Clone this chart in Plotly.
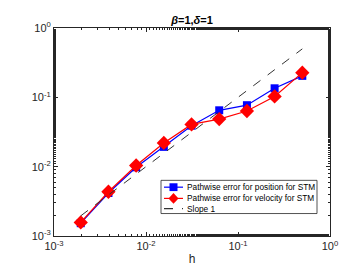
import plotly.graph_objects as go

h = [2**-9, 2**-8, 2**-7, 2**-6, 2**-5, 2**-4, 2**-3, 2**-2, 2**-1]
err_position = [0.00153, 0.00417, 0.0098, 0.0193, 0.039, 0.065, 0.077, 0.135, 0.204]
err_velocity = [0.00157, 0.00435, 0.0104, 0.022, 0.0407, 0.0485, 0.0635, 0.103, 0.227]
slope1 = list(h)

tickvals = [1e-3, 1e-2, 1e-1, 1e0]
ticktext = ["10<sup>-3</sup>", "10<sup>-2</sup>", "10<sup>-1</sup>", "10<sup>0</sup>"]
legend_names = ["Pathwise error for position for STM",
                "Pathwise error for velocity for STM",
                "Slope 1"]

font = "Liberation Sans, Arial, sans-serif"
W, H = 357, 268
L, R, T, B = 46, 322, 20, 233  # plot area in pixels

fig = go.Figure()
fig.add_trace(go.Scatter(
    x=h, y=err_position, mode="lines+markers", name=legend_names[0],
    line=dict(color="#0000ff", width=1.2),
    marker=dict(symbol="square", size=8, color="#0000ff"),
))
fig.add_trace(go.Scatter(
    x=h, y=err_velocity, mode="lines+markers", name=legend_names[1],
    line=dict(color="#ff0000", width=1.2),
    marker=dict(symbol="diamond", size=11, color="#ff0000"),
))
fig.add_trace(go.Scatter(
    x=h, y=slope1, mode="lines", name=legend_names[2],
    line=dict(color="#333333", width=1, dash="dash"),
))

axis_common = dict(
    type="log", showgrid=False, zeroline=False,
    showline=True, linecolor="#262626", linewidth=1, mirror="allticks",
    ticks="inside", ticklen=4, tickcolor="#262626",
    tickfont=dict(family=font, size=11, color="#262626"),
    tickvals=tickvals, ticktext=ticktext,
    minor=dict(ticks="inside", ticklen=2, tickcolor="#262626", showgrid=False),
)

def px(x):
    return (x - L) / (R - L)

def py(y):
    return (B - y) / (B - T)

# custom compact legend (MATLAB style)
shapes = [dict(type="rect", xref="paper", yref="paper",
               x0=px(153), x1=px(309), y0=py(210), y1=py(176),
               line=dict(color="#262626", width=0.8), fillcolor="white", layer="above")]
annotations = []
rows = [183, 194.5, 205]
styles = [("#0000ff", "solid", "square"), ("#ff0000", "solid", "diamond"), ("#333333", "dash", None)]
for name, yrow, (col, dash, sym) in zip(legend_names, rows, styles):
    shapes.append(dict(type="line", xref="paper", yref="paper",
                       x0=px(156), x1=px(175), y0=py(yrow), y1=py(yrow),
                       line=dict(color=col, width=1.2, dash=dash), layer="above"))
    if sym == "square":
        shapes.append(dict(type="rect", xref="paper", yref="paper",
                           x0=px(161.5), x1=px(169.5), y0=py(yrow + 4), y1=py(yrow - 4),
                           fillcolor=col, line=dict(width=0), layer="above"))
    elif sym == "diamond":
        cx, cy = 165.5, yrow
        pts = [(cx, cy - 5.5), (cx + 5, cy), (cx, cy + 5.5), (cx - 5, cy)]
        path = "M " + " L ".join(f"{px(a)} {py(b)}" for a, b in pts) + " Z"
        shapes.append(dict(type="path", xref="paper", yref="paper", path=path,
                           fillcolor=col, line=dict(width=0), layer="above"))
    annotations.append(dict(xref="paper", yref="paper", x=px(177), y=py(yrow),
                            xanchor="left", yanchor="middle", showarrow=False,
                            text=name, font=dict(family=font, size=8.3, color="black")))

fig.update_layout(
    width=W, height=H,
    margin=dict(l=L, r=W - R, t=T, b=H - B),
    paper_bgcolor="white", plot_bgcolor="white",
    title=dict(text="<b><i>β</i>=1,<i>δ</i>=1</b>", x=(L + R) / 2 / W, xanchor="center",
               y=1 - 12 / H, yanchor="middle",
               font=dict(family=font, size=11, color="black")),
    xaxis=dict(axis_common, range=[-3, 0],
               title=dict(text="h", font=dict(family=font, size=12, color="#262626"), standoff=3)),
    yaxis=dict(axis_common, range=[-3, 0]),
    showlegend=False,
    shapes=shapes,
    annotations=annotations,
)

fig.write_html("out.html")
